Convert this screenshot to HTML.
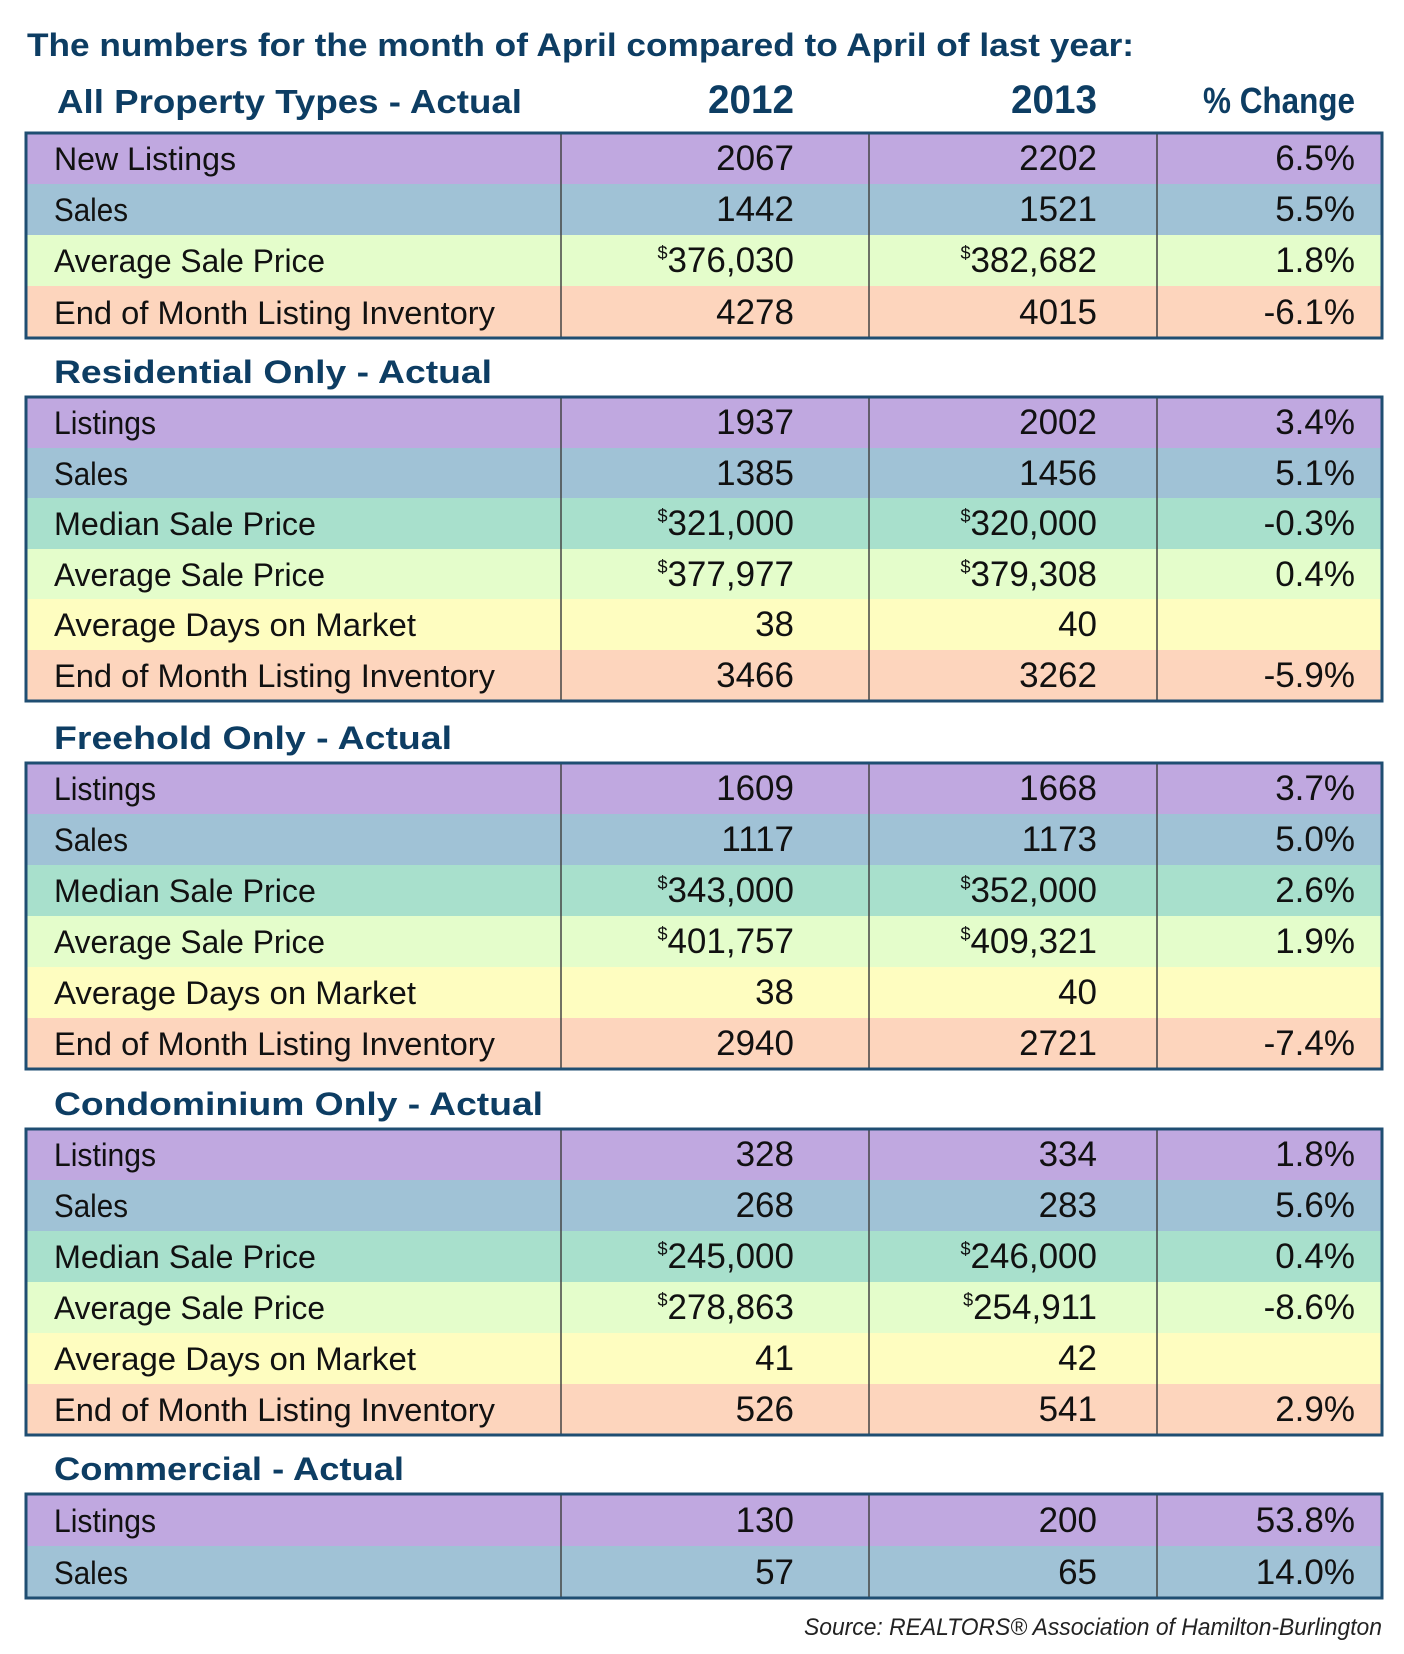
<!DOCTYPE html>
<html><head><meta charset="utf-8"><style>html,body{margin:0;padding:0;background:#fff}svg{display:block}</style></head>
<body>
<svg width="1404" height="1654" viewBox="0 0 1404 1654" xmlns="http://www.w3.org/2000/svg" font-family="Liberation Sans, sans-serif">
<rect width="1404" height="1654" fill="#fff"/>
<g fill="#0d3d63" font-weight="bold">
<text x="27" y="56" font-size="32" textLength="1107" lengthAdjust="spacingAndGlyphs">The numbers for the month of April compared to April of last year:</text>
<text x="57" y="113" font-size="33" textLength="465" lengthAdjust="spacingAndGlyphs">All Property Types - Actual</text>
<text x="794" y="113" font-size="40" text-anchor="end" textLength="86" lengthAdjust="spacingAndGlyphs">2012</text>
<text x="1097" y="113" font-size="40" text-anchor="end" textLength="86" lengthAdjust="spacingAndGlyphs">2013</text>
<text x="1355" y="113" font-size="36" text-anchor="end" textLength="152" lengthAdjust="spacingAndGlyphs">% Change</text>
<text x="54" y="383" font-size="32" textLength="438" lengthAdjust="spacingAndGlyphs">Residential Only - Actual</text>
<text x="54" y="749" font-size="32" textLength="398" lengthAdjust="spacingAndGlyphs">Freehold Only - Actual</text>
<text x="54" y="1115" font-size="32" textLength="489" lengthAdjust="spacingAndGlyphs">Condominium Only - Actual</text>
<text x="54" y="1480" font-size="32" textLength="350" lengthAdjust="spacingAndGlyphs">Commercial - Actual</text>
</g>

<g>
<rect x="26" y="133" width="1356" height="51" fill="#c0a8e0"/>
<rect x="26" y="184" width="1356" height="51" fill="#a0c2d6"/>
<rect x="26" y="235" width="1356" height="51" fill="#e4fdcb"/>
<rect x="26" y="286" width="1356" height="52" fill="#fdd5bd"/>
</g>
<g>
<rect x="26" y="397" width="1356" height="51" fill="#c0a8e0"/>
<rect x="26" y="448" width="1356" height="50" fill="#a0c2d6"/>
<rect x="26" y="498" width="1356" height="51" fill="#a8e0cc"/>
<rect x="26" y="549" width="1356" height="50" fill="#e4fdcb"/>
<rect x="26" y="599" width="1356" height="51" fill="#fefdc0"/>
<rect x="26" y="650" width="1356" height="51" fill="#fdd5bd"/>
</g>
<g>
<rect x="26" y="763" width="1356" height="51" fill="#c0a8e0"/>
<rect x="26" y="814" width="1356" height="51" fill="#a0c2d6"/>
<rect x="26" y="865" width="1356" height="51" fill="#a8e0cc"/>
<rect x="26" y="916" width="1356" height="51" fill="#e4fdcb"/>
<rect x="26" y="967" width="1356" height="51" fill="#fefdc0"/>
<rect x="26" y="1018" width="1356" height="51" fill="#fdd5bd"/>
</g>
<g>
<rect x="26" y="1129" width="1356" height="51" fill="#c0a8e0"/>
<rect x="26" y="1180" width="1356" height="51" fill="#a0c2d6"/>
<rect x="26" y="1231" width="1356" height="51" fill="#a8e0cc"/>
<rect x="26" y="1282" width="1356" height="51" fill="#e4fdcb"/>
<rect x="26" y="1333" width="1356" height="51" fill="#fefdc0"/>
<rect x="26" y="1384" width="1356" height="51" fill="#fdd5bd"/>
</g>
<g>
<rect x="26" y="1494" width="1356" height="52" fill="#c0a8e0"/>
<rect x="26" y="1546" width="1356" height="52" fill="#a0c2d6"/>
</g>

<g stroke="#444" stroke-width="1.5">
<line x1="561" y1="133" x2="561" y2="338"/><line x1="869" y1="133" x2="869" y2="338"/><line x1="1157" y1="133" x2="1157" y2="338"/>
<line x1="561" y1="397" x2="561" y2="701"/><line x1="869" y1="397" x2="869" y2="701"/><line x1="1157" y1="397" x2="1157" y2="701"/>
<line x1="561" y1="763" x2="561" y2="1069"/><line x1="869" y1="763" x2="869" y2="1069"/><line x1="1157" y1="763" x2="1157" y2="1069"/>
<line x1="561" y1="1129" x2="561" y2="1435"/><line x1="869" y1="1129" x2="869" y2="1435"/><line x1="1157" y1="1129" x2="1157" y2="1435"/>
<line x1="561" y1="1494" x2="561" y2="1598"/><line x1="869" y1="1494" x2="869" y2="1598"/><line x1="1157" y1="1494" x2="1157" y2="1598"/>
</g>
<g fill="none" stroke="#1f4e72" stroke-width="3">
<rect x="26" y="133" width="1356" height="205"/>
<rect x="26" y="397" width="1356" height="304"/>
<rect x="26" y="763" width="1356" height="306"/>
<rect x="26" y="1129" width="1356" height="306"/>
<rect x="26" y="1494" width="1356" height="104"/>
</g>

<g fill="#111" font-size="32">
<text x="54" y="170" textLength="182" lengthAdjust="spacingAndGlyphs">New Listings</text>
<text x="54" y="221" textLength="74" lengthAdjust="spacingAndGlyphs">Sales</text>
<text x="54" y="272" textLength="271" lengthAdjust="spacingAndGlyphs">Average Sale Price</text>
<text x="54" y="324" textLength="441" lengthAdjust="spacingAndGlyphs">End of Month Listing Inventory</text>

<text x="54" y="434" textLength="102" lengthAdjust="spacingAndGlyphs">Listings</text>
<text x="54" y="485" textLength="74" lengthAdjust="spacingAndGlyphs">Sales</text>
<text x="54" y="535" textLength="262" lengthAdjust="spacingAndGlyphs">Median Sale Price</text>
<text x="54" y="586" textLength="271" lengthAdjust="spacingAndGlyphs">Average Sale Price</text>
<text x="54" y="636" textLength="362" lengthAdjust="spacingAndGlyphs">Average Days on Market</text>
<text x="54" y="687" textLength="441" lengthAdjust="spacingAndGlyphs">End of Month Listing Inventory</text>

<text x="54" y="800" textLength="102" lengthAdjust="spacingAndGlyphs">Listings</text>
<text x="54" y="851" textLength="74" lengthAdjust="spacingAndGlyphs">Sales</text>
<text x="54" y="902" textLength="262" lengthAdjust="spacingAndGlyphs">Median Sale Price</text>
<text x="54" y="953" textLength="271" lengthAdjust="spacingAndGlyphs">Average Sale Price</text>
<text x="54" y="1004" textLength="362" lengthAdjust="spacingAndGlyphs">Average Days on Market</text>
<text x="54" y="1055" textLength="441" lengthAdjust="spacingAndGlyphs">End of Month Listing Inventory</text>

<text x="54" y="1166" textLength="102" lengthAdjust="spacingAndGlyphs">Listings</text>
<text x="54" y="1217" textLength="74" lengthAdjust="spacingAndGlyphs">Sales</text>
<text x="54" y="1268" textLength="262" lengthAdjust="spacingAndGlyphs">Median Sale Price</text>
<text x="54" y="1319" textLength="271" lengthAdjust="spacingAndGlyphs">Average Sale Price</text>
<text x="54" y="1370" textLength="362" lengthAdjust="spacingAndGlyphs">Average Days on Market</text>
<text x="54" y="1421" textLength="441" lengthAdjust="spacingAndGlyphs">End of Month Listing Inventory</text>

<text x="54" y="1532" textLength="102" lengthAdjust="spacingAndGlyphs">Listings</text>
<text x="54" y="1584" textLength="74" lengthAdjust="spacingAndGlyphs">Sales</text>
</g>

<g fill="#111" font-size="35" text-anchor="end">
<text x="794" y="170">2067</text><text x="1097" y="170">2202</text><text x="1355" y="170">6.5%</text>
<text x="794" y="221">1442</text><text x="1097" y="221">1521</text><text x="1355" y="221">5.5%</text>
<text x="794" y="272"><tspan font-size="18" dy="-13">$</tspan><tspan dy="13">376,030</tspan></text><text x="1097" y="272"><tspan font-size="18" dy="-13">$</tspan><tspan dy="13">382,682</tspan></text><text x="1355" y="272">1.8%</text>
<text x="794" y="324">4278</text><text x="1097" y="324">4015</text><text x="1355" y="324">-6.1%</text>

<text x="794" y="434">1937</text><text x="1097" y="434">2002</text><text x="1355" y="434">3.4%</text>
<text x="794" y="485">1385</text><text x="1097" y="485">1456</text><text x="1355" y="485">5.1%</text>
<text x="794" y="535"><tspan font-size="18" dy="-13">$</tspan><tspan dy="13">321,000</tspan></text><text x="1097" y="535"><tspan font-size="18" dy="-13">$</tspan><tspan dy="13">320,000</tspan></text><text x="1355" y="535">-0.3%</text>
<text x="794" y="586"><tspan font-size="18" dy="-13">$</tspan><tspan dy="13">377,977</tspan></text><text x="1097" y="586"><tspan font-size="18" dy="-13">$</tspan><tspan dy="13">379,308</tspan></text><text x="1355" y="586">0.4%</text>
<text x="794" y="636">38</text><text x="1097" y="636">40</text>
<text x="794" y="687">3466</text><text x="1097" y="687">3262</text><text x="1355" y="687">-5.9%</text>

<text x="794" y="800">1609</text><text x="1097" y="800">1668</text><text x="1355" y="800">3.7%</text>
<text x="794" y="851">1117</text><text x="1097" y="851">1173</text><text x="1355" y="851">5.0%</text>
<text x="794" y="902"><tspan font-size="18" dy="-13">$</tspan><tspan dy="13">343,000</tspan></text><text x="1097" y="902"><tspan font-size="18" dy="-13">$</tspan><tspan dy="13">352,000</tspan></text><text x="1355" y="902">2.6%</text>
<text x="794" y="953"><tspan font-size="18" dy="-13">$</tspan><tspan dy="13">401,757</tspan></text><text x="1097" y="953"><tspan font-size="18" dy="-13">$</tspan><tspan dy="13">409,321</tspan></text><text x="1355" y="953">1.9%</text>
<text x="794" y="1004">38</text><text x="1097" y="1004">40</text>
<text x="794" y="1055">2940</text><text x="1097" y="1055">2721</text><text x="1355" y="1055">-7.4%</text>

<text x="794" y="1166">328</text><text x="1097" y="1166">334</text><text x="1355" y="1166">1.8%</text>
<text x="794" y="1217">268</text><text x="1097" y="1217">283</text><text x="1355" y="1217">5.6%</text>
<text x="794" y="1268"><tspan font-size="18" dy="-13">$</tspan><tspan dy="13">245,000</tspan></text><text x="1097" y="1268"><tspan font-size="18" dy="-13">$</tspan><tspan dy="13">246,000</tspan></text><text x="1355" y="1268">0.4%</text>
<text x="794" y="1319"><tspan font-size="18" dy="-13">$</tspan><tspan dy="13">278,863</tspan></text><text x="1097" y="1319"><tspan font-size="18" dy="-13">$</tspan><tspan dy="13">254,911</tspan></text><text x="1355" y="1319">-8.6%</text>
<text x="794" y="1370">41</text><text x="1097" y="1370">42</text>
<text x="794" y="1421">526</text><text x="1097" y="1421">541</text><text x="1355" y="1421">2.9%</text>

<text x="794" y="1532">130</text><text x="1097" y="1532">200</text><text x="1355" y="1532">53.8%</text>
<text x="794" y="1584">57</text><text x="1097" y="1584">65</text><text x="1355" y="1584">14.0%</text>
</g>

<text x="1382" y="1635" font-size="24" font-style="italic" fill="#222" text-anchor="end" textLength="578" lengthAdjust="spacingAndGlyphs">Source:  REALTORS® Association of Hamilton-Burlington</text>
</svg>
</body></html>
